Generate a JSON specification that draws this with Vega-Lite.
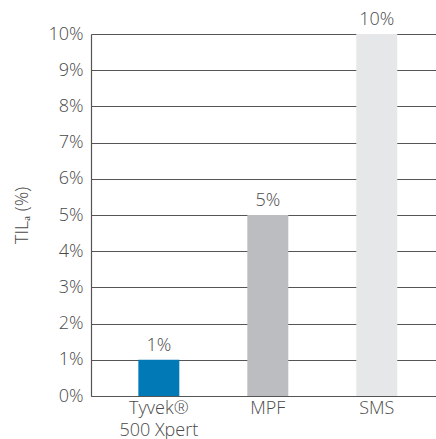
{
  "$schema": "https://vega.github.io/schema/vega-lite/v6.json",
  "autosize": "none",
  "width": 345,
  "height": 362,
  "padding": {"left": 91, "top": 34, "right": 0, "bottom": 43},
  "background": "white",
  "config": {
    "view": {"stroke": null},
    "font": "Open Sans",
    "axis": {
      "labelFont": "Open Sans",
      "titleFont": "Open Sans",
      "labelFontWeight": 300,
      "titleFontWeight": 300,
      "labelFontSize": 18,
      "titleFontSize": 18,
      "labelColor": "#4a4a4a",
      "titleColor": "#4a4a4a"
    }
  },
  "data": {
    "values": [
      {"material": "Tyvek® 500 Xpert", "til": 0.01, "color": "#0079b6"},
      {"material": "MPF", "til": 0.05, "color": "#bcbdc0"},
      {"material": "SMS", "til": 0.10, "color": "#e6e7e8"}
    ]
  },
  "encoding": {
    "x": {
      "field": "material",
      "type": "nominal",
      "sort": null,
      "scale": {"paddingInner": 0.624, "paddingOuter": 0.395, "align": 0.55},
      "axis": {
        "title": null,
        "labelAngle": 0,
        "ticks": false,
        "labelPadding": 3,
        "labelLineHeight": 22,
        "labelBaseline": "top",
        "domainColor": "#555555",
        "domainWidth": 1.2,
        "labelExpr": "datum.value == 'Tyvek® 500 Xpert' ? ['Tyvek®', '500 Xpert'] : datum.label"
      }
    },
    "y": {
      "field": "til",
      "type": "quantitative",
      "scale": {"domain": [0, 0.1], "nice": false},
      "axis": {
        "title": "TILₐ (%)",
        "format": ".0%",
        "values": [0, 0.01, 0.02, 0.03, 0.04, 0.05, 0.06, 0.07, 0.08, 0.09, 0.1],
        "ticks": false,
        "labelPadding": 8,
        "titlePadding": 16,
        "grid": true,
        "gridColor": "#555555",
        "gridWidth": 1.2,
        "domainColor": "#555555",
        "domainWidth": 1.2
      }
    }
  },
  "layer": [
    {
      "mark": {"type": "bar"},
      "encoding": {
        "color": {"field": "color", "type": "nominal", "scale": null}
      }
    },
    {
      "mark": {
        "type": "text",
        "baseline": "bottom",
        "dy": -5,
        "fontSize": 18,
        "font": "Open Sans",
        "fontWeight": 300,
        "color": "#4a4a4a"
      },
      "encoding": {
        "text": {"field": "til", "type": "quantitative", "format": ".0%"}
      }
    }
  ]
}
